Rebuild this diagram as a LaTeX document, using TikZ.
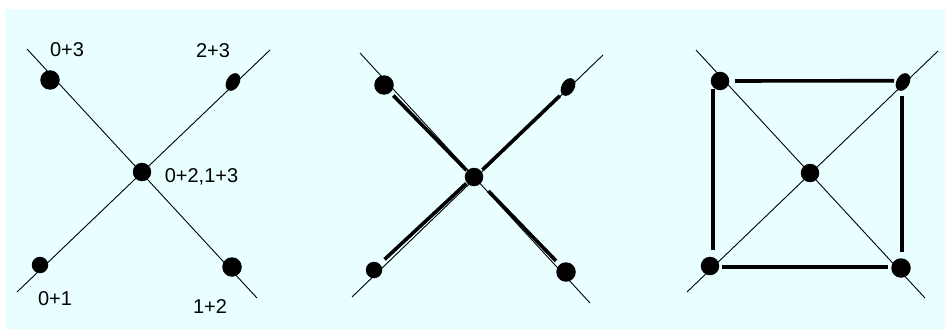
\documentclass[tikz,border=0pt]{standalone}
\usepackage{fontspec}
\setmainfont{Liberation Sans}
\usetikzlibrary{shapes.geometric}
\definecolor{bgc}{RGB}{232,254,255}
\begin{document}
\begin{tikzpicture}[x=1pt,y=-1pt,
  thinl/.style={line width=0.9pt},
  thickl/.style={line width=3.6pt},
  dot/.style={circle,fill=black,inner sep=0pt,minimum size=#1},
  edot/.style={ellipse,fill=black,inner sep=0pt,minimum width=13pt,minimum height=19pt,rotate=-30},
  lbl/.style={font=\fontsize{20}{24}\selectfont,inner sep=0pt,anchor=base}]
\useasboundingbox (0,0) rectangle (945,329);
\fill[white] (0,0) rectangle (945,329);
\fill[bgc] (5,9) rectangle (945,329);

% ---------- panel 1 ----------
\coordinate (p1a) at (27,49);  \coordinate (p1b) at (257,298);
\coordinate (p1c) at (17,292); \coordinate (p1d) at (270,50);
\draw[thinl] (p1a) -- (p1b);
\draw[thinl] (p1c) -- (p1d);
\node[dot=19.5pt] (a1nw) at (50,80) {};
\node[edot] (a1ne) at (233,82) {};
\node[dot=18.5pt] (a1c) at (142,172) {};
\node[dot=16.5pt] (a1sw) at (40,265) {};
\node[dot=19.5pt] (a1se) at (232,267) {};
\node[lbl] (t03) at (67,57) {0+3};
\node[lbl] (t23) at (213,58) {2+3};
\node[lbl] (tc) at (201.5,182) {0+2,1+3};
\node[lbl] (t01) at (55,305) {0+1};
\node[lbl] (t12) at (210,313) {1+2};

% ---------- panel 2 ----------
\coordinate (p2a) at (360,53);  \coordinate (p2b) at (590,303);
\coordinate (p2c) at (352,297); \coordinate (p2d) at (603,55);
\draw[thinl] (p2a) -- (p2b);
\draw[thinl] (p2c) -- (p2d);
\node[dot=19.5pt] (b2nw) at (384,85) {};
\node[edot] (b2ne) at (568,87) {};
\node[dot=18.5pt] (b2c) at (474,177) {};
\node[dot=16.5pt] (b2sw) at (374,270) {};
\node[dot=19.5pt] (b2se) at (566,272) {};
\draw[thickl,shorten <=14pt,shorten >=10pt] ([xshift=-0.5pt,yshift=-0.5pt]b2nw.center) -- ([xshift=-0.5pt,yshift=-0.5pt]b2c.center);
\draw[thickl,shorten <=12pt,shorten >=11pt] ([xshift=0.5pt,yshift=-0.5pt]b2ne.center) -- ([xshift=0.5pt,yshift=-0.5pt]b2c.center);
\draw[thickl,shorten <=15pt,shorten >=10pt] ([xshift=-0.4pt,yshift=0.4pt]b2sw.center) -- ([xshift=-0.4pt,yshift=0.4pt]b2c.center);
\draw[thickl,shorten <=15pt,shorten >=20pt] ([xshift=0.4pt,yshift=0.4pt]b2se.center) -- ([xshift=0.4pt,yshift=0.4pt]b2c.center);

% ---------- panel 3 ----------
\coordinate (p3a) at (696,50);  \coordinate (p3b) at (925,298);
\coordinate (p3c) at (687,292); \coordinate (p3d) at (938,51);
\draw[thinl] (p3a) -- (p3b);
\draw[thinl] (p3c) -- (p3d);
\node[dot=18.5pt] (c3nw) at (720,81) {};
\node[edot] (c3ne) at (903,82) {};
\node[dot=18.5pt] (c3c) at (810,173) {};
\node[dot=18.5pt] (c3sw) at (710,266) {};
\node[dot=19.5pt] (c3se) at (901,268) {};
\draw[thickl] ([xshift=15pt]c3nw.center) -- ([xshift=-9pt,yshift=1.3pt]c3ne.center);
\draw[thickl] ([xshift=-7pt,yshift=-8pt]c3nw.center) -- ([xshift=3pt,yshift=16pt]c3sw.center);
\draw[thickl] ([xshift=-1pt,yshift=-14pt]c3ne.center) -- ([xshift=1pt,yshift=16pt]c3se.center);
\draw[thickl] ([xshift=12pt,yshift=-0.7pt]c3sw.center) -- ([xshift=-13pt,yshift=1.3pt]c3se.center);
\end{tikzpicture}
\end{document}
